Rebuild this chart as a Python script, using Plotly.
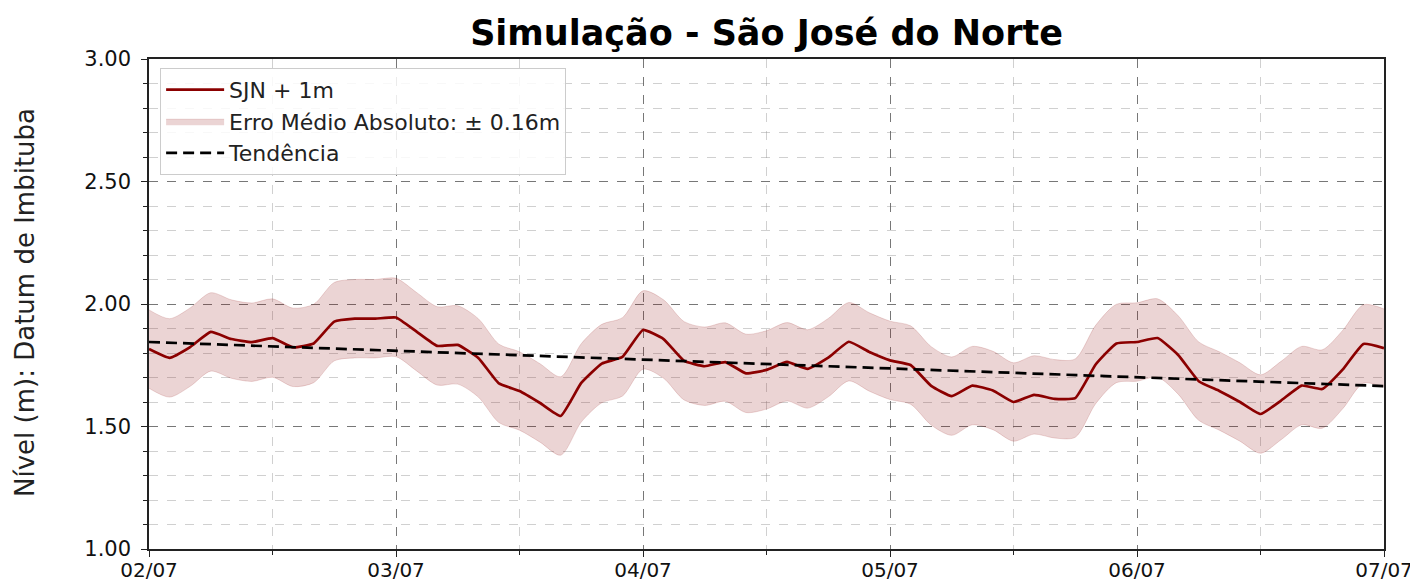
import plotly.graph_objects as go
import pandas as pd

# ---- data ----
start_time = "2025-07-02 00:00"
step_hours = 2
nivel = [1.816, 1.780, 1.824, 1.886, 1.857, 1.844, 1.861, 1.823, 1.839, 1.928,
         1.940, 1.940, 1.945, 1.887, 1.829, 1.833, 1.780, 1.676, 1.645, 1.596,
         1.543, 1.678, 1.757, 1.784, 1.894, 1.857, 1.768, 1.746, 1.763, 1.717,
         1.731, 1.764, 1.735, 1.781, 1.846, 1.804, 1.770, 1.751, 1.666, 1.624,
         1.667, 1.647, 1.600, 1.629, 1.613, 1.616, 1.754, 1.839, 1.845, 1.861,
         1.792, 1.685, 1.645, 1.600, 1.551, 1.606, 1.667, 1.653, 1.733, 1.837,
         1.820]
mae = 0.16
trend_start = 1.845
trend_end = 1.665
tick_labels = ["02/07", "03/07", "04/07", "05/07", "06/07", "07/07"]
y_ticks = [1.0, 1.5, 2.0, 2.5, 3.0]

times = pd.date_range(start_time, periods=len(nivel), freq=f"{step_hours}h")
upper = [v + mae for v in nivel]
lower = [v - mae for v in nivel]
tick_vals = pd.date_range(start_time, periods=len(tick_labels), freq="1D")

DARKRED = "#8B0000"
FONT = "DejaVu Sans"
# page body has an 8px default margin: figure is drawn from (8, 8)
W, H = 1410, 577
L, T, PW, PH = 141, 51, 1235, 490

fig = go.Figure()
fig.add_trace(go.Scatter(x=times, y=upper, mode="lines",
                         line=dict(color="rgba(139,0,0,0.15)", width=1, shape="spline", smoothing=0.8),
                         showlegend=False, hoverinfo="skip"))
fig.add_trace(go.Scatter(x=times, y=lower, mode="lines", fill="tonexty",
                         fillcolor="rgba(139,0,0,0.17)",
                         line=dict(color="rgba(139,0,0,0.15)", width=1, shape="spline", smoothing=0.8),
                         name=f"Erro Médio Absoluto: ± {mae:.2f}m", legendrank=2))
fig.add_trace(go.Scatter(x=times, y=nivel, mode="lines",
                         line=dict(color=DARKRED, width=2.7, shape="spline", smoothing=0.4),
                         name="SJN + 1m", legendrank=1))
fig.add_trace(go.Scatter(x=[times[0], times[-1]], y=[trend_start, trend_end], mode="lines",
                         line=dict(color="black", width=2.7, dash="11px,6px"),
                         name="Tendência", legendrank=3))

axis_common = dict(
    showline=True, linecolor="#222", linewidth=1.5, mirror=True,
    ticks="outside", ticklen=6, tickwidth=1.3, tickcolor="#222",
    showgrid=True, gridcolor="rgba(90,90,90,0.75)", gridwidth=1, griddash="dash",
    tickfont=dict(family=FONT, size=21, color="#111"),
    zeroline=False, automargin=False,
)

fig.update_xaxes(
    **axis_common,
    type="date",
    range=[times[0], times[-1]],
    tickvals=tick_vals, ticktext=tick_labels,
    minor=dict(dtick=43200000, ticks="outside", ticklen=4, tickcolor="#222",
               showgrid=True, gridcolor="rgba(150,150,150,0.45)", griddash="dash", gridwidth=1),
)
fig.update_xaxes(tickfont=dict(family=FONT, size=20, color="#111"), ticklabelstandoff=-4)
fig.update_yaxes(
    **axis_common,
    range=[1.0, 3.0],
    tickvals=y_ticks,
    ticktext=[f"{v:.2f}" for v in y_ticks],
    ticklabelstandoff=6,
    minor=dict(dtick=0.1, ticks="outside", ticklen=4, tickcolor="#222",
               showgrid=True, gridcolor="rgba(150,150,150,0.45)", griddash="dash", gridwidth=1),
)

fig.add_annotation(text="Nível (m): Datum de Imbituba", textangle=-90,
                   xref="paper", yref="paper", x=(17 - L) / PW, y=(PH - (303 - 8 - T)) / PH,
                   xanchor="center", yanchor="middle", showarrow=False,
                   font=dict(family=FONT, size=26, color="#222"))

fig.update_layout(
    width=W, height=H,
    margin=dict(l=L, r=W - L - PW, t=T, b=H - T - PH, autoexpand=False),
    paper_bgcolor="white", plot_bgcolor="white",
    title=dict(text="<b>Simulação - São José do Norte</b>", x=(L + PW / 2) / W, xanchor="center",
               y=1 - 25 / H, yanchor="middle",
               font=dict(family=FONT, size=35, color="black")),
    legend=dict(x=0.009, y=0.982, xanchor="left", yanchor="top",
                bgcolor="rgba(255,255,255,0.85)", bordercolor="#ccc", borderwidth=1,
                font=dict(family=FONT, size=22, color="#222"),
                itemwidth=58, tracegroupgap=0, traceorder="normal"),
    showlegend=True,
)

fig.write_html("out.html")
